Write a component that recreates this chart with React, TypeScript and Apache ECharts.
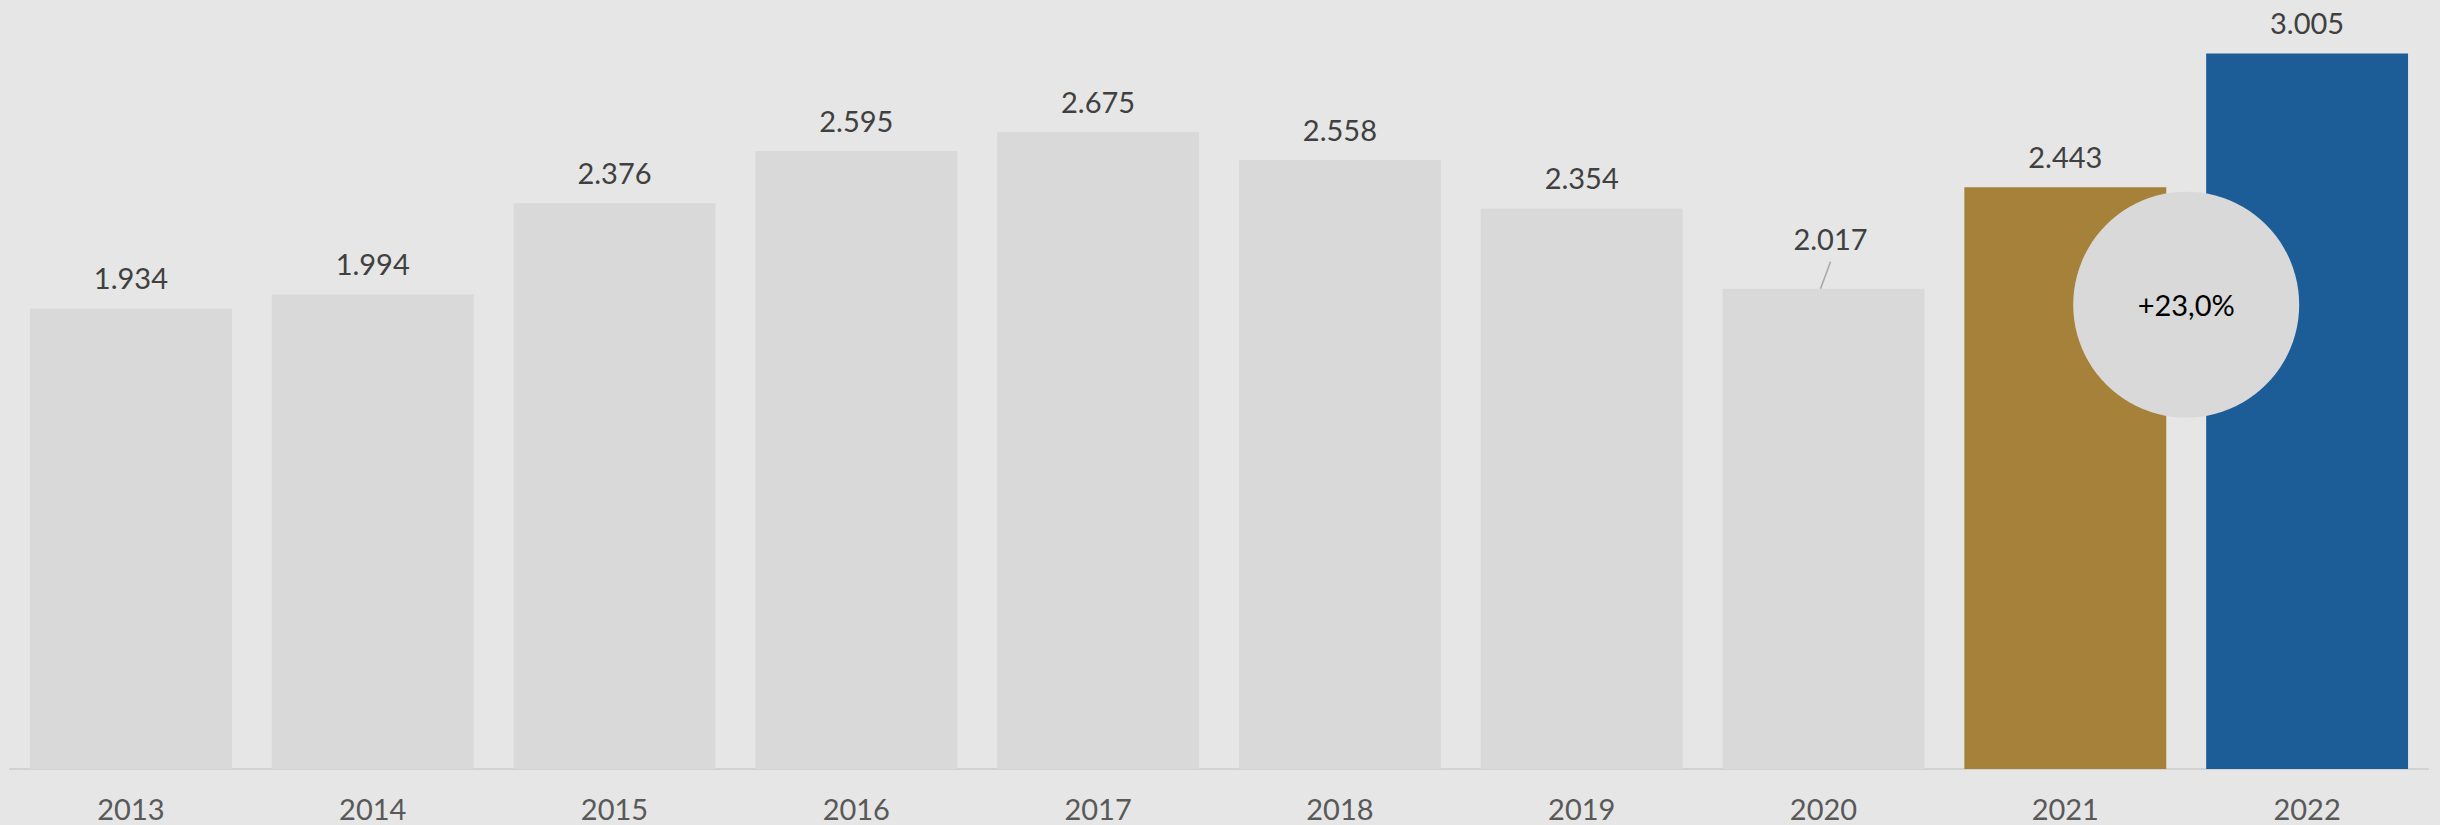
import React, { useEffect, useRef } from 'react';
import * as echarts from 'echarts';

const years = ['2013', '2014', '2015', '2016', '2017', '2018', '2019', '2020', '2021', '2022'];
const values = [1934, 1994, 2376, 2595, 2675, 2558, 2354, 2017, 2443, 3005];
const barColors = ['#d9d9d9', '#d9d9d9', '#d9d9d9', '#d9d9d9', '#d9d9d9', '#d9d9d9', '#d9d9d9', '#d9d9d9', '#a68139', '#1c5d97'];
const growthLabel = '+23,0%';
const growthBubbleValue = 1950;
const shiftedLabelIndex = 7;

const fmt = (v: number) => Math.floor(v / 1000) + '.' + String(v % 1000).padStart(3, '0');

export default function App() {
  const ref = useRef<HTMLDivElement>(null);
  useEffect(() => {
    if (!ref.current) return;
    const chart = echarts.init(ref.current, undefined, { renderer: 'svg' });
    const font = 'Lato, "Open Sans", sans-serif';
    chart.setOption({
      animation: false,
      backgroundColor: '#e6e6e6',
      grid: { left: 10, right: 12, top: 7, bottom: 56, containLabel: false },
      xAxis: {
        type: 'category',
        data: years,
        axisLine: { lineStyle: { color: '#d2d2d2', width: 2 } },
        axisTick: { length: 10, lineStyle: { color: '#d2d2d2', width: 2 } },
        axisLabel: { margin: 25, fontSize: 29, color: '#595959', fontFamily: font },
      },
      yAxis: { type: 'value', min: 0, max: 3200, show: false, splitLine: { show: false } },
      series: [
        {
          type: 'bar',
          barCategoryGap: '16.5%',
          data: values.map((v, i) => ({
            value: v,
            itemStyle: { color: barColors[i] },
            label: i === shiftedLabelIndex ? { offset: [7, -20] } : undefined,
          })),
          label: {
            show: true,
            position: 'top',
            distance: 16,
            fontSize: 29,
            color: '#404040',
            fontFamily: font,
            formatter: (p: any) => fmt(p.value),
          },
        },
      ],
    });

    const p8 = chart.convertToPixel({ seriesIndex: 0 }, [8, growthBubbleValue]) as number[];
    const p9 = chart.convertToPixel({ seriesIndex: 0 }, [9, growthBubbleValue]) as number[];
    const cx = (p8[0] + p9[0]) / 2;
    const cy = p8[1];
    const b = chart.convertToPixel({ seriesIndex: 0 }, [shiftedLabelIndex, values[shiftedLabelIndex]]) as number[];

    chart.setOption({
      graphic: [
        {
          type: 'line',
          shape: { x1: b[0] - 3, y1: b[1], x2: b[0] + 7, y2: b[1] - 27 },
          style: { stroke: '#a6a6a6', lineWidth: 1.5 },
          z: 10,
        },
        {
          type: 'circle',
          shape: { cx, cy, r: 113 },
          style: { fill: '#d9d9d9' },
          z: 10,
        },
        {
          type: 'text',
          x: cx,
          y: cy,
          style: {
            text: growthLabel,
            fontSize: 29,
            fontFamily: font,
            fill: '#000000',
            align: 'center',
            verticalAlign: 'middle',
          },
          z: 11,
        },
      ],
    });

    return () => chart.dispose();
  }, []);
  return (
    <div
      ref={ref}
      style={{ position: 'absolute', left: 0, top: 0, width: 2440, height: 825, background: '#e6e6e6' }}
    />
  );
}
